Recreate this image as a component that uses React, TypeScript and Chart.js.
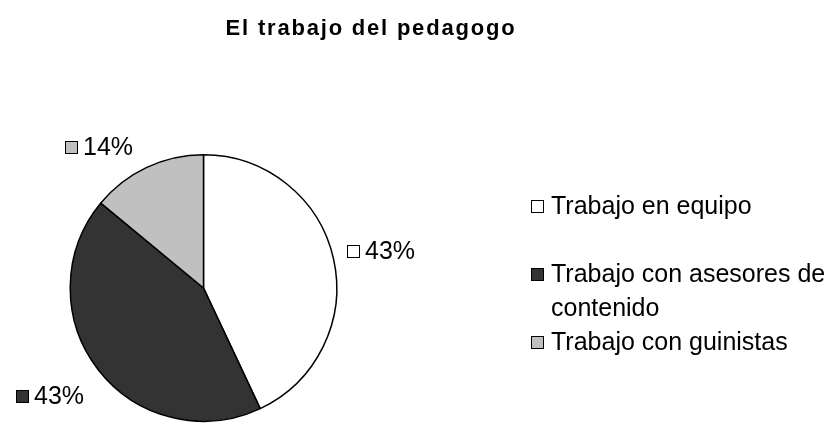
import React, { useEffect, useRef } from "react";
import { Chart, registerables } from "chart.js";

Chart.register(...registerables);

const chartTitle = "El trabajo del pedagogo";
const categories = ["Trabajo en equipo", "Trabajo con asesores de contenido", "Trabajo con guinistas"];
const legendLines = [["Trabajo en equipo"], ["Trabajo con asesores de", "contenido"], ["Trabajo con guinistas"]];
const values = [43, 43, 14];
const percentLabels = ["43%", "43%", "14%"];
const sliceColors = ["#ffffff", "#333333", "#c0c0c0"];

const FONT = '"Liberation Sans", Arial, sans-serif';

const overlayPlugin = {
  id: "overlay",
  afterDraw(chart: any) {
    const ctx = chart.ctx as CanvasRenderingContext2D;
    ctx.save();
    // title
    ctx.fillStyle = "#000";
    ctx.font = `bold 22px ${FONT}`;
    (ctx as any).letterSpacing = "1.8px";
    ctx.textAlign = "center";
    ctx.textBaseline = "alphabetic";
    ctx.fillText(chartTitle, 371, 35);
    (ctx as any).letterSpacing = "0px";

    // percent labels
    const meta = chart.getDatasetMeta(0);
    const nudges = [
      [0, -5],
      [-3, 18],
      [-8, -8],
    ];
    ctx.font = `25px ${FONT}`;
    ctx.textBaseline = "middle";
    const sq = 12;
    meta.data.forEach((arc: any, i: number) => {
      const p = arc.getProps(["x", "y", "startAngle", "endAngle", "outerRadius"], true);
      const mid = (p.startAngle + p.endAngle) / 2;
      const r = p.outerRadius + 14;
      const ax = p.x + Math.cos(mid) * r + nudges[i][0];
      const ay = p.y + Math.sin(mid) * r + nudges[i][1];
      const text = percentLabels[i];
      const tw = ctx.measureText(text).width;
      const gap = 6;
      const total = sq + gap + tw;
      const left = Math.round(Math.cos(mid) >= 0 ? ax : ax - total);
      const top = Math.round(ay - sq / 2);
      ctx.fillStyle = sliceColors[i];
      ctx.fillRect(left + 0.5, top + 0.5, sq, sq);
      ctx.strokeStyle = "#000";
      ctx.lineWidth = 1;
      ctx.strokeRect(left + 0.5, top + 0.5, sq, sq);
      ctx.fillStyle = "#000";
      ctx.textAlign = "left";
      ctx.fillText(text, left + sq + gap, ay + 1);
    });

    // legend
    const lx = 531;
    const ly0 = 206;
    const entryH = 68;
    const lineH = 34;
    legendLines.forEach((lines, i) => {
      const cy = ly0 + entryH * i;
      const top = Math.round(cy - sq / 2);
      ctx.fillStyle = sliceColors[i];
      ctx.fillRect(lx + 0.5, top + 0.5, sq, sq);
      ctx.strokeStyle = "#000";
      ctx.strokeRect(lx + 0.5, top + 0.5, sq, sq);
      ctx.fillStyle = "#000";
      ctx.textAlign = "left";
      lines.forEach((ln, j) => ctx.fillText(ln, lx + 20, cy + 1 + j * lineH));
    });
    ctx.restore();
  },
};

export default function App() {
  const ref = useRef<HTMLCanvasElement | null>(null);
  useEffect(() => {
    if (!ref.current) return;
    const chart = new Chart(ref.current, {
      type: "pie",
      data: {
        labels: categories,
        datasets: [
          {
            data: values,
            backgroundColor: sliceColors,
            borderColor: "#000",
            borderWidth: 1.5,
          },
        ],
      },
      options: {
        responsive: false,
        animation: false,
        layout: { padding: { left: 69.5, right: 496.5, top: 154, bottom: 3 } },
        plugins: {
          legend: { display: false },
          title: { display: false },
          tooltip: { enabled: false },
        },
      },
      plugins: [overlayPlugin],
    });
    return () => chart.destroy();
  }, []);
  return (
    <div style={{ position: "fixed", left: 0, top: 0, width: 834, height: 425, background: "#fff" }}>
      <canvas ref={ref} width={834} height={425} style={{ width: 834, height: 425, display: "block" }} />
    </div>
  );
}
